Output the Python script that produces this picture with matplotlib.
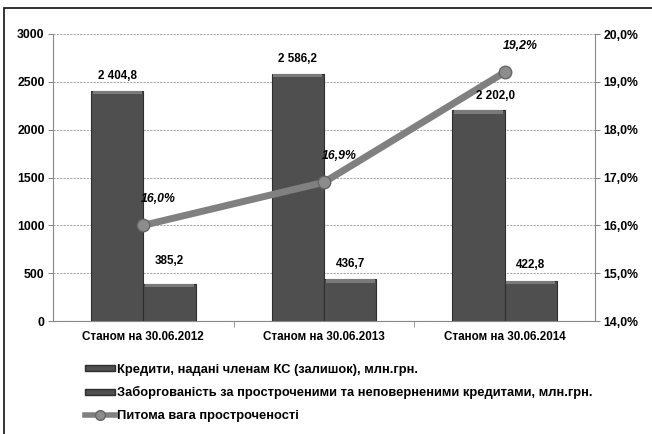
import numpy as np
import matplotlib.pyplot as plt
from matplotlib.patches import Rectangle
from matplotlib.lines import Line2D

plt.rcParams['font.family'] = ['Liberation Sans', 'DejaVu Sans']

categories = ['Станом на 30.06.2012', 'Станом на 30.06.2013', 'Станом на 30.06.2014']
credits = [2404.8, 2586.2, 2202.0]
overdue = [385.2, 436.7, 422.8]
share = [16.0, 16.9, 19.2]

credits_label = 'Кредити, надані членам КС (залишок), млн.грн.'
overdue_label = 'Заборгованість за простроченими та неповерненими кредитами, млн.грн.'
share_label = 'Питома вага простроченості'

def fmt_num(v):
    s = '{:,.1f}'.format(v).replace(',', ' ').replace('.', ',')
    return s

fig = plt.figure(figsize=(6.52, 4.34), dpi=100)
fig.patches.append(Rectangle((4/652, -0.01), 1.0, 1 - 8/434 + 0.01, transform=fig.transFigure,
                             fill=False, edgecolor='#111111', linewidth=1.2))

ax = fig.add_axes([53/652, 1 - 321/434, 542/652, 287/434])
x = np.arange(len(categories))
w = 0.29
bar_color = '#4f4f4f'
b1 = ax.bar(x - w/2, credits, w, color=bar_color, edgecolor='#2e2e2e', linewidth=0.8, zorder=2)
b2 = ax.bar(x + w/2, overdue, w, color=bar_color, edgecolor='#2e2e2e', linewidth=0.8, zorder=2)

# bevel highlight along the bar tops
for bars in (b1, b2):
    for r in bars:
        ax.add_patch(Rectangle((r.get_x() + 0.01, r.get_height() - 35), r.get_width() - 0.02, 35,
                               color='#7a7a7a', zorder=3, linewidth=0))

ax.set_xlim(-0.5, 2.5)
ax.set_ylim(0, 3000)
ax.set_yticks(range(0, 3001, 500))
ax.set_xticks(x)
ax.set_xticklabels(categories, fontsize=8.4, fontweight='bold')
ax.set_xticks([0.5, 1.5], minor=True)
ax.tick_params(axis='x', which='major', length=0, pad=7)
ax.tick_params(axis='x', which='minor', length=4, color='#888888')
ax.tick_params(axis='y', length=3.5, color='#888888', labelsize=8.8, pad=2.5)
for t in ax.get_yticklabels():
    t.set_fontweight('bold')
ax.grid(axis='y', linestyle=(0, (2, 1)), color='#aaaaaa', linewidth=0.8, zorder=0)
for s in ('top', 'right'):
    ax.spines[s].set_visible(False)
ax.spines['left'].set_color('#888888')
ax.spines['bottom'].set_color('#888888')

ax2 = ax.twinx()
ax2.set_ylim(14, 20)
ax2.set_yticks(np.arange(14, 20.1, 1))
ax2.set_yticklabels(['{:.1f}%'.format(v).replace('.', ',') for v in np.arange(14, 20.1, 1)],
                    fontsize=8.8, fontweight='bold')
ax2.tick_params(axis='y', length=3.5, color='#888888', pad=2.5)
for s in ('top', 'left', 'bottom'):
    ax2.spines[s].set_visible(False)
ax2.spines['right'].set_color('#888888')
ax2.plot(x, share, color='#808080', linewidth=5, marker='o', markersize=9,
         markerfacecolor='#8c8c8c', markeredgecolor='#666666', zorder=4)
for xi, v in zip(x, share):
    ax2.annotate('{:.1f}%'.format(v).replace('.', ','), (xi, v), xytext=(11, 19),
                 textcoords='offset points', ha='center', va='center', fontsize=8.8,
                 fontweight='bold', style='italic')

# bar value labels go on the top axes so they sit above the line;
# the last tall-bar label is nudged right, clear of the line
for i, (r, v) in enumerate(zip(b1, credits)):
    dx = 12 if i == len(credits) - 1 else 0
    ax2.annotate(fmt_num(v), (r.get_x() + r.get_width()/2, v), xycoords=ax.transData,
                 xytext=(dx, 10.5), textcoords='offset points', ha='center', va='center',
                 fontsize=8.4, fontweight='bold', zorder=6)
for i, (r, v) in enumerate(zip(b2, overdue)):
    dy = 17 if i == 0 else 11
    ax2.annotate(fmt_num(v), (r.get_x() + r.get_width()/2, v), xycoords=ax.transData,
                 xytext=(0, dy), textcoords='offset points', ha='center', va='center',
                 fontsize=8.4, fontweight='bold', zorder=6)

handles = [Rectangle((0, 0), 1, 1, facecolor=bar_color, edgecolor='#2e2e2e'),
           Rectangle((0, 0), 1, 1, facecolor=bar_color, edgecolor='#2e2e2e'),
           Line2D([], [], color='#808080', linewidth=4, marker='o', markersize=7,
                  markerfacecolor='#8c8c8c', markeredgecolor='#666666')]
leg = fig.legend(handles, [credits_label, overdue_label, share_label], loc='upper left',
                 bbox_to_anchor=(85/652, 1 - 364/434), frameon=False, prop={'size': 9.3, 'weight': 'bold'},
                 handlelength=2.3, handleheight=0.35, handletextpad=0.15, labelspacing=0.8,
                 borderaxespad=0, borderpad=0)

fig.savefig('out.png', dpi=100)
